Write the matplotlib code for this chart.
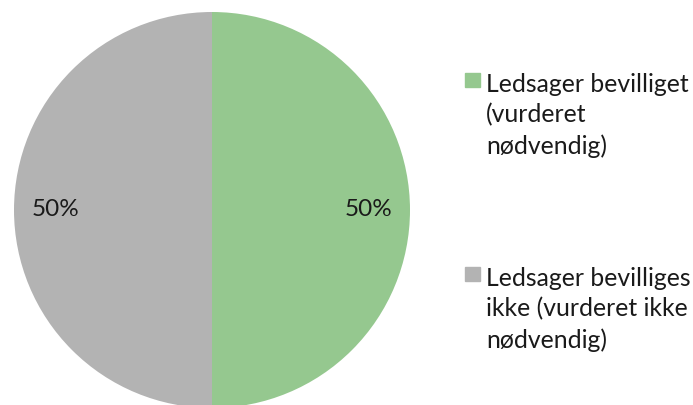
import matplotlib
matplotlib.use('Agg')
import matplotlib.pyplot as plt
from matplotlib.patches import Rectangle

# chart data
categories = ['Ledsager bevilliget\n(vurderet\nnødvendig)',
              'Ledsager bevilliges\nikke (vurderet ikke\nnødvendig)']
shares = [50, 50]
colors = ['#95C88F', '#B3B3B3']

plt.rcParams['font.family'] = ['Lato', 'DejaVu Sans']

W, H = 693, 405
fig = plt.figure(figsize=(W / 100, H / 100), dpi=100)

# pie axes: circle centred at (212, 210) px from top, radius 198 px
cx, cy, r = 212, 210, 198
ax = fig.add_axes([(cx - r) / W, (H - cy - r) / H, 2 * r / W, 2 * r / H])
ax.pie(shares, colors=colors, startangle=90, counterclock=False,
       autopct='%1.0f%%', pctdistance=0.79, radius=1,
       textprops={'fontsize': 17.5, 'color': '#1a1a1a'},
       wedgeprops={'linewidth': 0})
ax.set_xlim(-1, 1)
ax.set_ylim(-1, 1)
ax.set_aspect('auto')
ax.axis('off')

# manual legend: square aligned with the first line of each label
tops = [72, 266]
for label, col, top in zip(categories, colors, tops):
    fig.patches.append(Rectangle((465 / W, 1 - (top + 15) / H), 15 / W, 14 / H,
                                 transform=fig.transFigure, color=col))
    fig.text(486 / W, 1 - (top + 1) / H, label, fontsize=17.8, color='#1a1a1a',
             va='top', ha='left', linespacing=1.38)

fig.savefig('out.png', dpi=100)
